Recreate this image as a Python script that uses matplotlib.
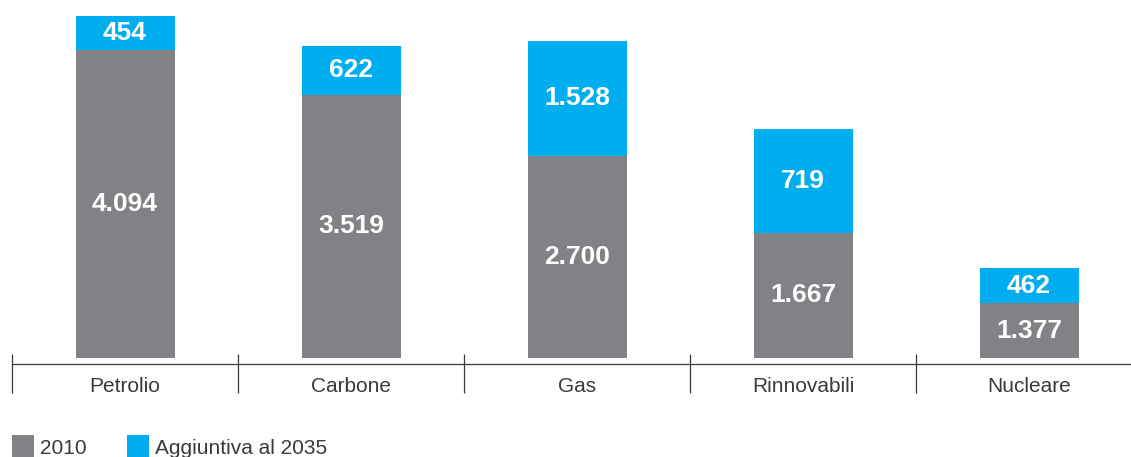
import matplotlib
matplotlib.use('Agg')
import matplotlib.pyplot as plt
import matplotlib.patches as patches

# categories and values (labels as printed on the chart)
categories = ['Petrolio', 'Carbone', 'Gas', 'Rinnovabili', 'Nucleare']
val_2010 = [4094, 3519, 2700, 1667, 1377]
val_2035 = [454, 622, 1528, 719, 462]

# bar heights as actually drawn in the reference (Rinnovabili / Nucleare
# segments are not to scale in the original)
h_2010 = [4094, 3500, 2690, 1662, 731]
h_2035 = [454, 651, 1529, 1382, 465]

legend_labels = ['2010', 'Aggiuntiva al 2035']

GREY = '#818286'
BLUE = '#00aeef'
LINE = '#3a3a3a'
TXT = '#3a3a3a'

W, H = 1131, 457
fig = plt.figure(figsize=(W / 100, H / 100), dpi=100, facecolor='white')
ax = fig.add_axes([12 / W, (H - 364) / H, (W - 12) / W, 364 / H])

PX = 0.07523  # pixels per unit


def fmt(v):
    return f'{v:,}'.replace(',', '.')


x = list(range(len(categories)))
bw = 99 / 226
ax.bar(x, h_2010, width=bw, color=GREY, zorder=2)
ax.bar(x, h_2035, width=bw, bottom=h_2010, color=BLUE, zorder=2)

for i in x:
    ax.text(i, h_2010[i] / 2, fmt(val_2010[i]), ha='center', va='center',
            color='white', fontsize=19, fontweight='bold',
            family='Liberation Sans', zorder=3)
    ax.text(i, h_2010[i] + h_2035[i] / 2, fmt(val_2035[i]), ha='center',
            va='center', color='white', fontsize=19, fontweight='bold',
            family='Liberation Sans', zorder=3)
    ax.text(i, (358 - 387) / PX, categories[i], ha='center', va='center',
            color=TXT, fontsize=15, family='Liberation Sans')

# category separators
ax.vlines([i - 0.5 for i in x], (358 - 393) / PX, (358 - 354) / PX,
          color=LINE, linewidth=0.9, clip_on=False)

ax.set_xlim(-0.5, -0.5 + (W - 12) / 226)
ax.set_ylim((358 - 364) / PX, 358 / PX)
for s in ('top', 'right', 'left'):
    ax.spines[s].set_visible(False)
ax.spines['bottom'].set_color(LINE)
ax.spines['bottom'].set_linewidth(0.9)
ax.set_xticks([])
ax.set_yticks([])

# legend
leg_x = [12, 127]
for lx, lab, col in zip(leg_x, legend_labels, [GREY, BLUE]):
    fig.add_artist(patches.Rectangle((lx / W, 0), 22 / W, 22 / H,
                                     transform=fig.transFigure,
                                     facecolor=col, edgecolor='none'))
    fig.text((lx + 28) / W, (H - 449) / H, lab, ha='left', va='center',
             color=TXT, fontsize=15, family='Liberation Sans')

fig.savefig('out.png', dpi=100, facecolor='white')
